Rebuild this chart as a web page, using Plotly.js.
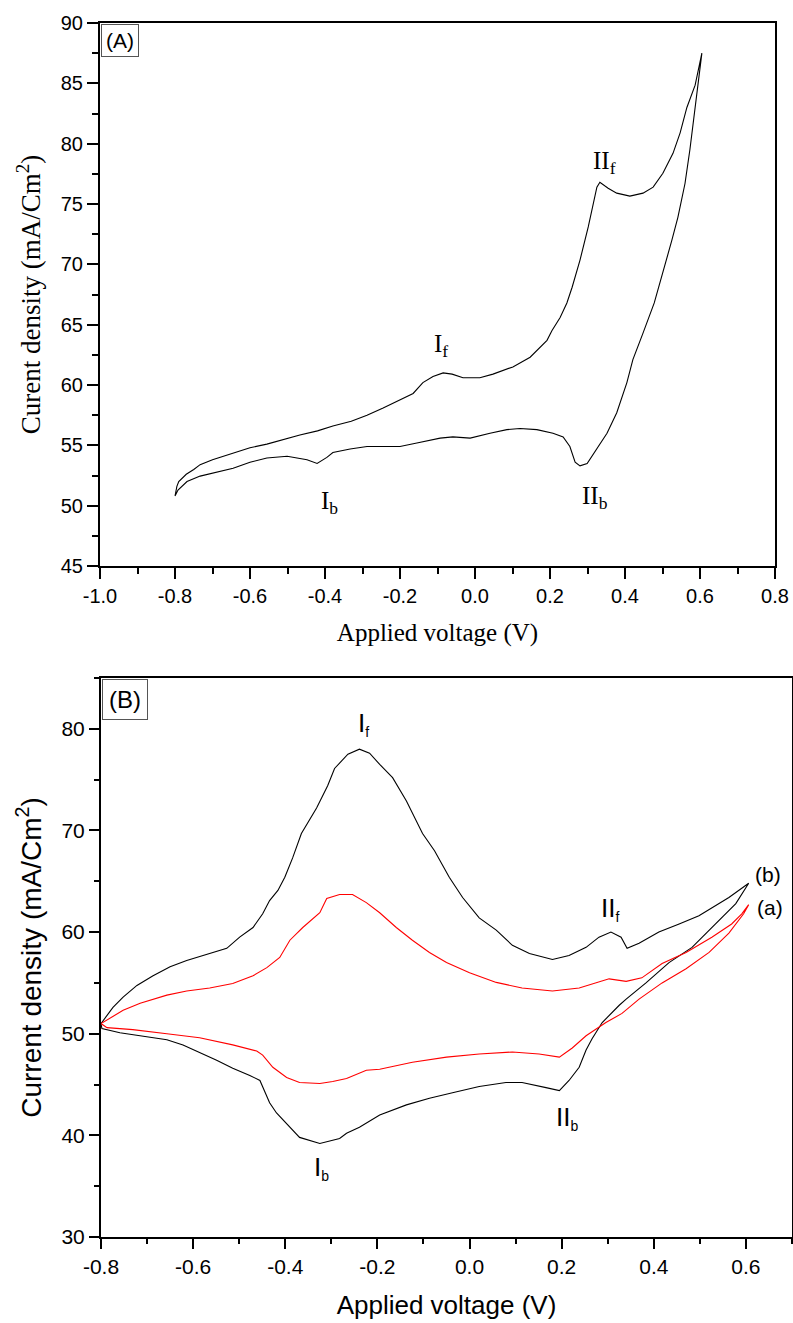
<!DOCTYPE html>
<html>
<head>
<meta charset="utf-8">
<script src="https://cdn.plot.ly/plotly-3.0.1.min.js"></script>
<style>html,body{margin:0;padding:0;background:#fff;}#chart{width:793px;height:1323px;}</style>
</head>
<body>
<div id="chart"></div>
<script>
// ---------- Panel (A) data: one cyclic voltammogram (forward scan then reverse scan) ----------
const voltA = [
  -0.8, -0.795, -0.79, -0.77, -0.75, -0.733, -0.7, -0.67, -0.645, -0.6, -0.555, -0.51, -0.467, -0.42,
  -0.379, -0.33, -0.288, -0.245, -0.2, -0.165, -0.139, -0.112, -0.085, -0.061, -0.032, 0.013, 0.048,
  0.101, 0.147, 0.192, 0.205, 0.227, 0.245, 0.259, 0.28, 0.302, 0.325, 0.333, 0.355, 0.378, 0.413,
  0.448, 0.475, 0.501, 0.528, 0.547, 0.565, 0.587, 0.605,
  0.595, 0.587, 0.573, 0.56, 0.541, 0.525, 0.501, 0.478, 0.448, 0.421, 0.405, 0.378, 0.352, 0.315,
  0.299, 0.28, 0.267, 0.253, 0.235, 0.208, 0.165, 0.12, 0.085, 0.04, -0.013, -0.059, -0.093, -0.155,
  -0.2, -0.245, -0.288, -0.333, -0.379, -0.395, -0.421, -0.448, -0.485, -0.501, -0.555, -0.6, -0.645,
  -0.688, -0.733, -0.768, -0.792, -0.8
];
const currentA = [
  50.8, 51.6, 52.0, 52.6, 53.0, 53.4, 53.8, 54.1, 54.4, 54.8, 55.1, 55.5, 55.85, 56.2,
  56.6, 57.0, 57.5, 58.1, 58.75, 59.3, 60.2, 60.7, 61.0, 60.9, 60.6, 60.6, 60.9,
  61.5, 62.3, 63.7, 64.5, 65.6, 66.8, 68.1, 70.35, 73.1, 76.4, 76.8, 76.3, 75.9, 75.65,
  75.9, 76.4, 77.55, 79.2, 80.9, 83.0, 84.85, 87.5,
  85.0, 82.5, 79.5, 76.7, 73.9, 72.0, 69.3, 66.8, 64.3, 62.1, 60.2, 57.7, 56.0, 54.2,
  53.5, 53.3, 53.6, 54.9, 55.7, 56.0, 56.3, 56.4, 56.3, 56.0, 55.6, 55.7, 55.6, 55.2,
  54.9, 54.9, 54.9, 54.7, 54.4, 54.0, 53.5, 53.8, 54.0, 54.1, 53.95, 53.6, 53.1,
  52.8, 52.45, 52.0, 51.3, 50.8
];

// ---------- Panel (B) data: curve (b), black ----------
const voltBb = [
  -0.8, -0.774, -0.752, -0.722, -0.687, -0.65, -0.614, -0.586, -0.527, -0.499, -0.47, -0.449, -0.434,
  -0.416, -0.401, -0.384, -0.365, -0.332, -0.308, -0.293, -0.264, -0.239, -0.217, -0.195, -0.167,
  -0.137, -0.102, -0.076, -0.044, -0.015, 0.021, 0.058, 0.093, 0.13, 0.18, 0.216, 0.253, 0.281, 0.307,
  0.329, 0.342, 0.368, 0.411, 0.455, 0.498, 0.563, 0.606,
  0.578, 0.526, 0.483, 0.433, 0.383, 0.34, 0.325, 0.288, 0.266, 0.253, 0.238, 0.216, 0.195, 0.166,
  0.114, 0.079, 0.021, -0.037, -0.087, -0.137, -0.195, -0.239, -0.267, -0.282, -0.325, -0.369, -0.397,
  -0.419, -0.434, -0.445, -0.455, -0.477, -0.514, -0.549, -0.586, -0.622, -0.657, -0.715, -0.759,
  -0.798, -0.8
];
const currentBb = [
  51.0, 52.6, 53.6, 54.75, 55.7, 56.6, 57.2, 57.6, 58.4, 59.5, 60.45, 61.8, 63.1,
  64.1, 65.4, 67.3, 69.7, 72.2, 74.4, 76.1, 77.5, 78.0, 77.6, 76.5, 75.2,
  72.9, 69.7, 68.0, 65.4, 63.4, 61.4, 60.2, 58.7, 57.9, 57.3, 57.7, 58.5, 59.5, 60.0,
  59.5, 58.4, 58.9, 60.0, 60.8, 61.6, 63.4, 64.8,
  62.8, 60.45, 58.5, 57.0, 55.0, 53.4, 52.8, 51.1, 49.5, 48.4, 46.7, 45.4, 44.4, 44.7,
  45.2, 45.2, 44.8, 44.2, 43.65, 43.0, 42.0, 40.8, 40.2, 39.7, 39.2, 39.8, 41.2,
  42.2, 43.2, 44.4, 45.4, 45.9, 46.6, 47.4, 48.2, 48.9, 49.4, 49.8, 50.1,
  50.5, 51.0
];

// ---------- Panel (B) data: curve (a), red ----------
const voltBa = [
  -0.8, -0.752, -0.715, -0.657, -0.614, -0.564, -0.514, -0.47, -0.44, -0.412, -0.39, -0.362, -0.325,
  -0.31, -0.282, -0.254, -0.224, -0.195, -0.159, -0.124, -0.087, -0.05, 0.0, 0.058, 0.114, 0.18,
  0.238, 0.281, 0.303, 0.34, 0.374, 0.418, 0.47, 0.526, 0.569, 0.591, 0.606,
  0.595, 0.563, 0.52, 0.47, 0.418, 0.368, 0.331, 0.296, 0.253, 0.223, 0.195, 0.151, 0.093, 0.021,
  -0.05, -0.124, -0.195, -0.224, -0.267, -0.297, -0.325, -0.369, -0.397, -0.427, -0.449, -0.462,
  -0.514, -0.586, -0.657, -0.731, -0.787, -0.8
];
const currentBa = [
  51.0, 52.3, 53.0, 53.8, 54.2, 54.5, 54.95, 55.7, 56.5, 57.5, 59.2, 60.45, 61.9,
  63.3, 63.7, 63.7, 62.9, 61.9, 60.45, 59.2, 58.0, 57.0, 56.0, 55.05, 54.5, 54.2,
  54.5, 55.05, 55.4, 55.15, 55.5, 56.9, 58.0, 59.5, 60.8, 61.8, 62.7,
  61.8, 59.9, 58.0, 56.4, 55.0, 53.4, 52.0, 51.1, 49.8, 48.6, 47.7, 48.0, 48.2, 48.0,
  47.7, 47.2, 46.5, 46.4, 45.6, 45.3, 45.1, 45.2, 45.7, 46.7, 47.9, 48.3,
  48.9, 49.6, 50.0, 50.4, 50.6, 51.0
];

// ---------- tick labels ----------
const xTickValsA = [-1.0, -0.8, -0.6, -0.4, -0.2, 0.0, 0.2, 0.4, 0.6, 0.8];
const xTickTextA = ['-1.0', '-0.8', '-0.6', '-0.4', '-0.2', '0.0', '0.2', '0.4', '0.6', '0.8'];
const yTickValsA = [45, 50, 55, 60, 65, 70, 75, 80, 85, 90];
const yTickTextA = ['45', '50', '55', '60', '65', '70', '75', '80', '85', '90'];
const xTickValsB = [-0.8, -0.6, -0.4, -0.2, 0.0, 0.2, 0.4, 0.6];
const xTickTextB = ['-0.8', '-0.6', '-0.4', '-0.2', '0.0', '0.2', '0.4', '0.6'];
const yTickValsB = [30, 40, 50, 60, 70, 80];
const yTickTextB = ['30', '40', '50', '60', '70', '80'];

const SANS = 'Liberation Sans, Arial, Helvetica, sans-serif';
const SERIF = 'Liberation Serif, Times New Roman, Times, serif';

const traces = [
  {x: voltA, y: currentA, xaxis: 'x', yaxis: 'y', mode: 'lines', line: {color: '#000', width: 1.1}, hoverinfo: 'skip'},
  {x: voltBb, y: currentBb, xaxis: 'x2', yaxis: 'y2', mode: 'lines', line: {color: '#000', width: 1.1}, hoverinfo: 'skip'},
  {x: voltBa, y: currentBa, xaxis: 'x2', yaxis: 'y2', mode: 'lines', line: {color: '#ff0000', width: 1.1}, hoverinfo: 'skip'}
];

function axisBase(len) {
  return {
    showline: true, linewidth: 2, linecolor: '#000', mirror: true,
    showgrid: false, zeroline: false,
    ticks: 'outside', ticklen: len, tickwidth: 2, tickcolor: '#000'
  };
}

const layout = {
  width: 793, height: 1323,
  margin: {l: 0, r: 0, t: 0, b: 0},
  paper_bgcolor: '#fff', plot_bgcolor: '#fff',
  showlegend: false,
  xaxis: Object.assign(axisBase(11), {
    domain: [100 / 793, 775 / 793], anchor: 'y', range: [-1.0, 0.8],
    tickmode: 'array', tickvals: xTickValsA, ticktext: xTickTextA,
    minor: {ticks: 'outside', ticklen: 6, tickwidth: 2, tickcolor: '#000', tickmode: 'linear', tick0: -1.0, dtick: 0.1, showgrid: false},
    tickfont: {family: SANS, size: 20, color: '#000'},
    title: {text: 'Applied voltage (V)', font: {family: SERIF, size: 25, color: '#000'}, standoff: 17}
  }),
  yaxis: Object.assign(axisBase(11), {
    domain: [1 - 566 / 1323, 1 - 23 / 1323], anchor: 'x', range: [45, 90],
    tickmode: 'array', tickvals: yTickValsA, ticktext: yTickTextA,
    minor: {ticks: 'outside', ticklen: 6, tickwidth: 2, tickcolor: '#000', tickmode: 'linear', tick0: 45, dtick: 2.5, showgrid: false},
    tickfont: {family: SANS, size: 20, color: '#000'},
    title: {text: 'Curent density (mA/Cm<sup>2</sup>)', font: {family: SERIF, size: 27, color: '#000'}, standoff: 12}
  }),
  xaxis2: Object.assign(axisBase(10), {
    domain: [101 / 793, 792 / 793], anchor: 'y2', range: [-0.8, 0.7],
    tickmode: 'array', tickvals: xTickValsB, ticktext: xTickTextB,
    minor: {ticks: 'outside', ticklen: 5, tickwidth: 2, tickcolor: '#000', tickmode: 'linear', tick0: -0.8, dtick: 0.1, showgrid: false},
    tickfont: {family: SANS, size: 21, color: '#000'},
    title: {text: 'Applied voltage (V)', font: {family: SANS, size: 26, color: '#000'}, standoff: 19}
  }),
  yaxis2: Object.assign(axisBase(10), {
    domain: [1 - 1237 / 1323, 1 - 678 / 1323], anchor: 'x2', range: [30, 85],
    tickmode: 'array', tickvals: yTickValsB, ticktext: yTickTextB,
    minor: {ticks: 'outside', ticklen: 5, tickwidth: 2, tickcolor: '#000', tickmode: 'linear', tick0: 30, dtick: 5, showgrid: false},
    tickfont: {family: SANS, size: 21, color: '#000'},
    title: {text: 'Current density (mA/Cm<sup>2</sup>)', font: {family: SANS, size: 28, color: '#000'}, standoff: 12}
  }),
  annotations: [
    // panel labels
    {xref: 'x domain', yref: 'y domain', x: 0.002, y: 0.998, xanchor: 'left', yanchor: 'top', showarrow: false,
     text: '(A)', font: {family: SANS, size: 21, color: '#000'}, bordercolor: '#555', borderwidth: 1, borderpad: 4, bgcolor: '#fff'},
    {xref: 'x2 domain', yref: 'y2 domain', x: 0.001, y: 0.999, xanchor: 'left', yanchor: 'top', showarrow: false,
     text: '(B)', font: {family: SANS, size: 24, color: '#000'}, bordercolor: '#555', borderwidth: 1, borderpad: 6, bgcolor: '#fff'},
    // panel A peak labels
    {xref: 'x', yref: 'y', x: -0.091, y: 63.3, showarrow: false, text: 'I<sub>f</sub>', font: {family: SERIF, size: 25, color: '#000'}},
    {xref: 'x', yref: 'y', x: 0.344, y: 78.4, showarrow: false, text: 'II<sub>f</sub>', font: {family: SERIF, size: 25, color: '#000'}},
    {xref: 'x', yref: 'y', x: -0.389, y: 50.3, showarrow: false, text: 'I<sub>b</sub>', font: {family: SERIF, size: 25, color: '#000'}},
    {xref: 'x', yref: 'y', x: 0.32, y: 50.7, showarrow: false, text: 'II<sub>b</sub>', font: {family: SERIF, size: 25, color: '#000'}},
    // panel B peak labels
    {xref: 'x2', yref: 'y2', x: -0.23, y: 80.5, showarrow: false, text: 'I<sub><span style="font-size:14px">f</span></sub>', font: {family: SANS, size: 26, color: '#000'}},
    {xref: 'x2', yref: 'y2', x: 0.305, y: 62.3, showarrow: false, text: 'II<sub><span style="font-size:14px">f</span></sub>', font: {family: SANS, size: 26, color: '#000'}},
    {xref: 'x2', yref: 'y2', x: -0.321, y: 36.8, showarrow: false, text: 'I<sub><span style="font-size:14px">b</span></sub>', font: {family: SANS, size: 26, color: '#000'}},
    {xref: 'x2', yref: 'y2', x: 0.212, y: 41.7, showarrow: false, text: 'II<sub><span style="font-size:14px">b</span></sub>', font: {family: SANS, size: 26, color: '#000'}},
    {xref: 'x2', yref: 'y2', x: 0.647, y: 65.7, showarrow: false, text: '(b)', font: {family: SANS, size: 21, color: '#000'}},
    {xref: 'x2', yref: 'y2', x: 0.652, y: 62.4, showarrow: false, text: '(a)', font: {family: SANS, size: 21, color: '#000'}}
  ]
};

Plotly.newPlot('chart', traces, layout, {staticPlot: true, displayModeBar: false});
</script>
</body>
</html>
